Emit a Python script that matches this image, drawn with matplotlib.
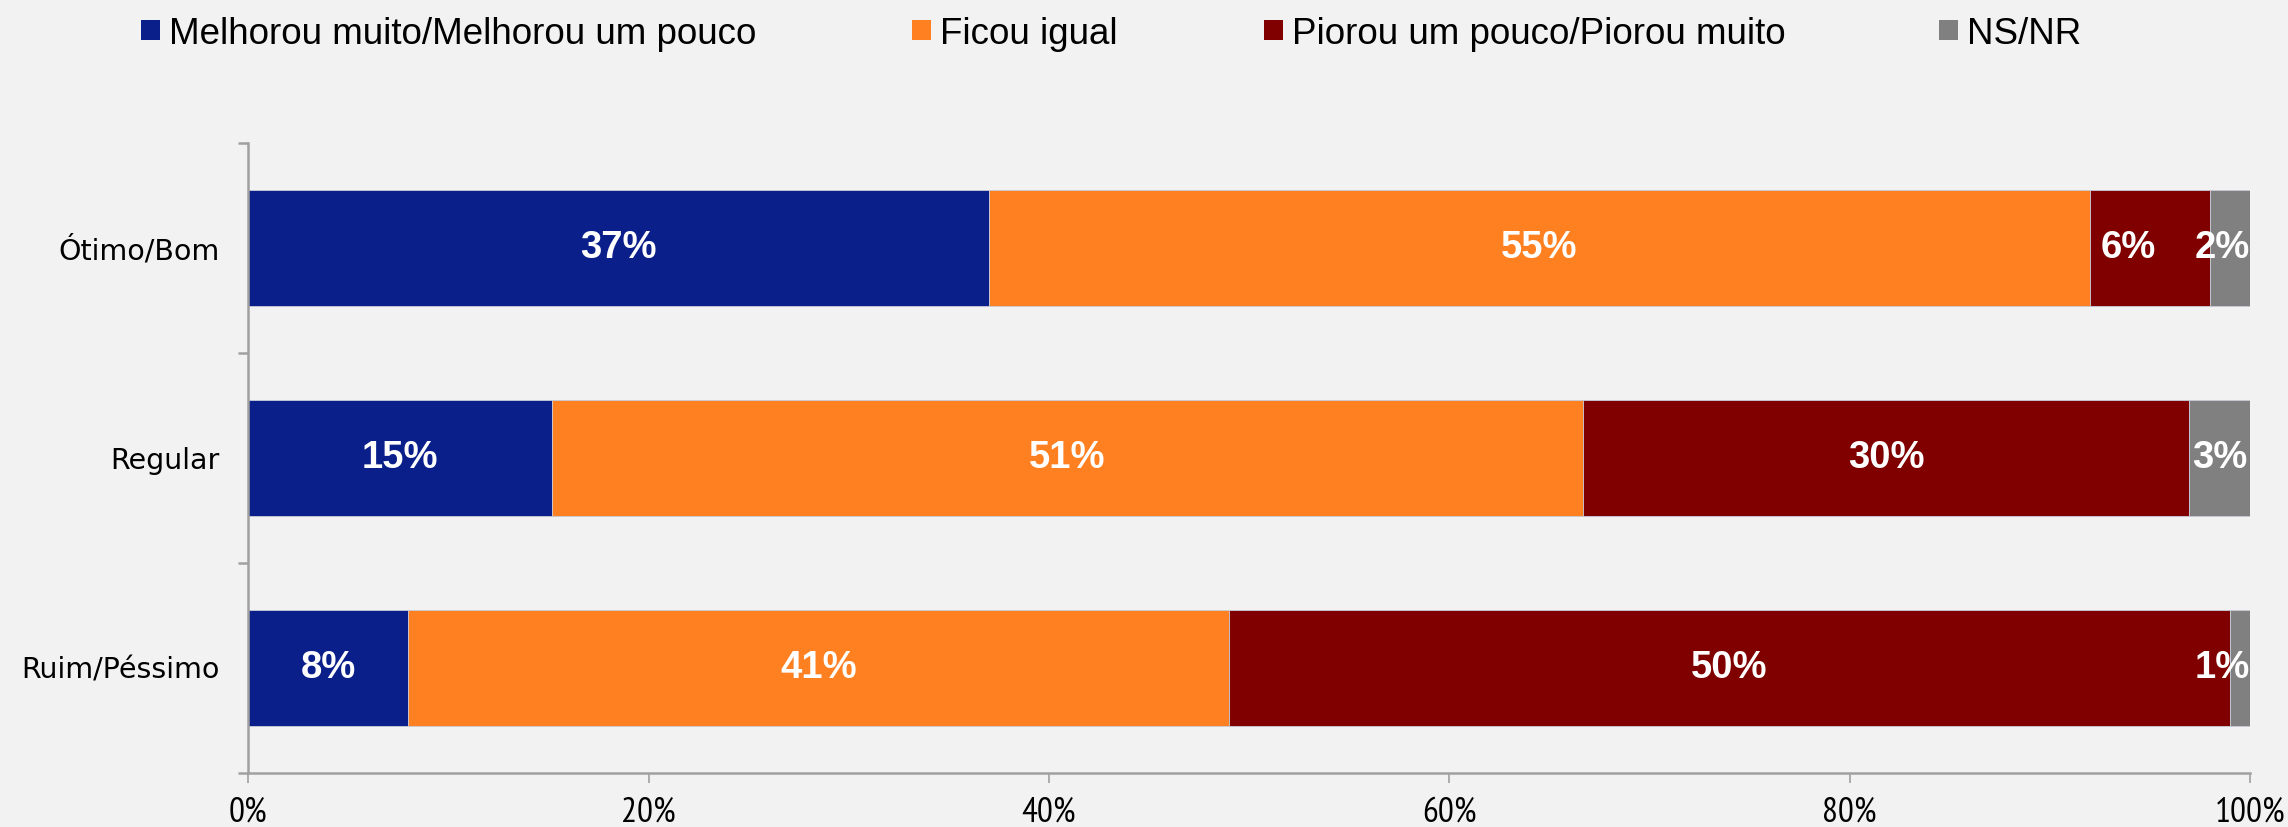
import matplotlib
matplotlib.use("Agg")
import matplotlib.pyplot as plt
from matplotlib.patches import Rectangle
from matplotlib import font_manager
import numpy as np

# Survey data: share of answers per evaluation group (row sums are rounded)
categories = ["Ótimo/Bom", "Regular", "Ruim/Péssimo"]
series_names = ["Melhorou muito/Melhorou um pouco", "Ficou igual",
                "Piorou um pouco/Piorou muito", "NS/NR"]
melhorou = [37, 15, 8]
ficou_igual = [55, 51, 41]
piorou = [6, 30, 50]
ns_nr = [2, 3, 1]
x_ticks = [0, 20, 40, 60, 80, 100]
x_tick_labels = ["0%", "20%", "40%", "60%", "80%", "100%"]

colors = ["#0B1F8B", "#FF8021", "#800000", "#808080"]
bg = "#F2F2F2"
axis_gray = "#A0A0A0"

raw = np.array([melhorou, ficou_igual, piorou, ns_nr], dtype=float)
# 100% stacked: each row scaled to its own total
shares = raw / raw.sum(axis=0) * 100

W, H, DPI = 2288, 827, 100
fig = plt.figure(figsize=(W / DPI, H / DPI), dpi=DPI, facecolor=bg)
ax = fig.add_axes([248.3 / W, 1 - 772.7 / H, (2250 - 248.3) / W, (772.7 - 142.7) / H])
ax.set_facecolor(bg)

y = np.arange(len(categories))
left = np.zeros(len(categories))
bar_h = 0.554
labels = [[] for _ in categories]
for i, (name, col) in enumerate(zip(series_names, colors)):
    ax.barh(y, shares[i], left=left, height=bar_h, color=col,
            edgecolor="#C8CCD8", linewidth=0.6, label=name, zorder=2)
    for j in range(len(categories)):
        center = left[j] + shares[i][j] / 2
        t = ax.text(center, y[j], f"{raw[i][j]:.0f}%", ha="center", va="center",
                    color="white", fontsize=27.5, fontweight="bold",
                    family=["Liberation Sans", "DejaVu Sans"], zorder=3)
        labels[j].append(t)
    left += shares[i]

ax.set_xlim(0, 100)
ax.set_ylim(len(categories) - 0.5, -0.5)

for side in ("top", "right"):
    ax.spines[side].set_visible(False)
for side in ("left", "bottom"):
    ax.spines[side].set_color(axis_gray)
    ax.spines[side].set_linewidth(1.8)

ax.set_yticks(y)
ax.set_yticklabels(categories, fontsize=20.5, family=["DejaVu Sans"])
ax.set_yticks(np.arange(-0.5, len(categories)), minor=True)
ax.tick_params(axis="y", which="major", length=0, pad=21)
ax.tick_params(axis="y", which="minor", length=7.5, width=1.8, color=axis_gray)

# Condensed face for the percentage scale
installed = {f.name for f in font_manager.fontManager.ttflist}
tick_family = [n for n in ("Liberation Sans Narrow", "PT Sans Narrow", "Archivo Narrow")
               if n in installed][:1] + ["Liberation Sans"]

ax.set_xticks(x_ticks)
ax.set_xticklabels(x_tick_labels, fontsize=25.5, family=tick_family)
ax.tick_params(axis="x", which="major", length=7.5, width=1.2, color=axis_gray, pad=10)

# Legend row along the top edge
legend_x = [141, 912, 1264, 1939]
sq = 19
yc = 30
for x0, name, col in zip(legend_x, series_names, colors):
    fig.patches.append(Rectangle((x0 / W, (H - yc - sq / 2) / H), sq / W, sq / H,
                                 transform=fig.transFigure, facecolor=col,
                                 edgecolor="none"))
    fig.text((x0 + 28) / W, 1 - yc / H, name, ha="left", va="center_baseline",
             fontsize=26.5, family=["Liberation Sans", "DejaVu Sans"], color="black")

# Keep value labels of thin segments inside the bar and apart from each other
fig.canvas.draw()
renderer = fig.canvas.get_renderer()
gap_px = 39
right_px = ax.transData.transform((100, 0))[0]
for row in labels:
    limit = right_px
    for t in reversed(row):
        bb = t.get_window_extent(renderer)
        shift = max(0.0, bb.x1 - limit)
        if shift > 0:
            cx = ax.transData.transform((t.get_position()[0], 0))[0] - shift
            t.set_x(ax.transData.inverted().transform((cx, 0))[0])
        limit = bb.x0 - shift - gap_px

fig.savefig("out.png", dpi=DPI, facecolor=bg)
